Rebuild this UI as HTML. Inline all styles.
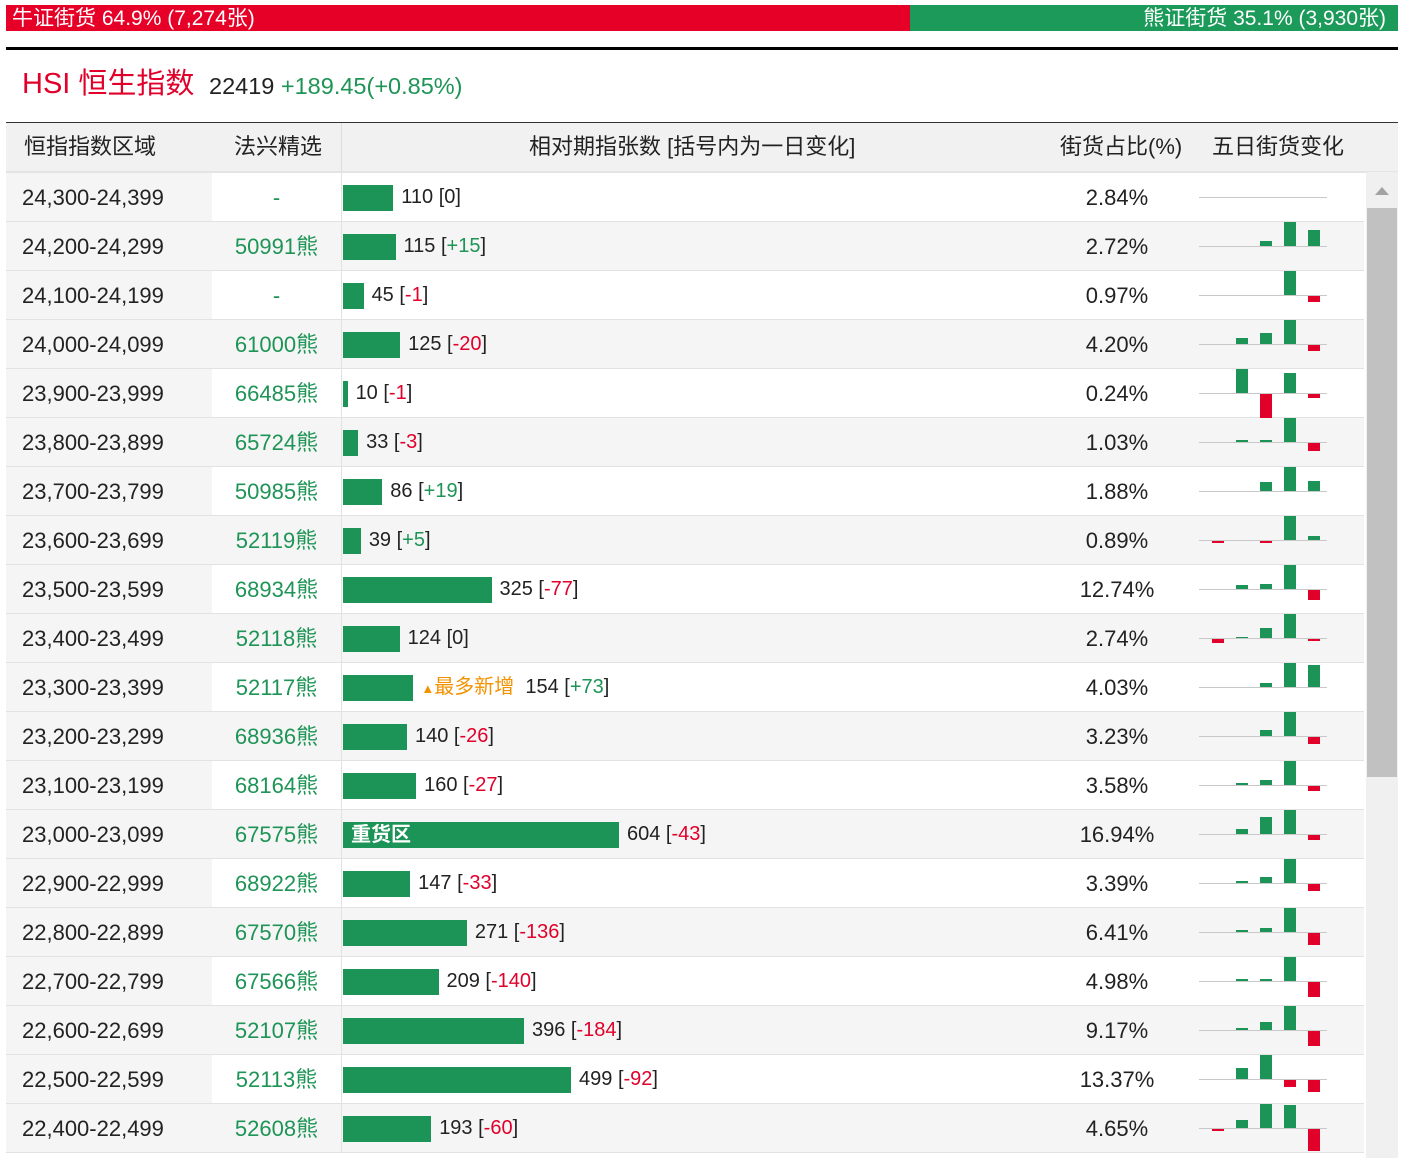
<!DOCTYPE html>
<html><head><meta charset="utf-8">
<style>
*{box-sizing:border-box;margin:0;padding:0}
body{width:1404px;height:1158px;overflow:hidden;background:#fff;font-family:"Liberation Sans","Noto Sans CJK SC",sans-serif;position:relative;color:#222}
.abs{position:absolute}
#rows div.t{position:absolute;font-size:20px;line-height:49px;white-space:nowrap}
#rows div.big{font-size:22px}
.g{color:#1e9456}.r{color:#e0002a}
</style></head><body>
<div class="abs" style="left:6px;top:5px;width:904px;height:26px;background:#e60028;color:#fff;font-size:21px;line-height:27px;padding-left:6px">牛证街货 64.9% (7,274张)</div>
<div class="abs" style="left:910px;top:5px;width:488px;height:26px;background:#1b9a59;color:#fff;font-size:21px;line-height:27px;text-align:right;padding-right:12px">熊证街货 35.1% (3,930张)</div>
<div class="abs" style="left:6px;top:47px;width:1392px;height:3px;background:#000"></div>
<div class="abs" style="left:22px;top:66px;font-size:29px;color:#e0002a;line-height:36px">HSI 恒生指数</div>
<div class="abs" style="left:209px;top:71px;font-size:23.5px;line-height:30px">22419 <span class="g">+189.45(+0.85%)</span></div>
<div class="abs" style="left:6px;top:122px;width:1392px;height:51px;background:#f1f1f1;border-top:1px solid #333;border-bottom:2px solid #e4e4e4;font-size:22px;line-height:48px;color:#222">
<span class="abs" style="left:18px">恒指指数区域</span>
<span class="abs" style="left:228px">法兴精选</span>
<span class="abs" style="left:335px;top:0;width:1px;height:48px;background:#ddd"></span>
<span class="abs" style="left:523px">相对期指张数 [括号内为一日变化]</span>
<span class="abs" style="left:1054px">街货占比(%)</span>
<span class="abs" style="left:1206px">五日街货变化</span>
</div>
<div class="abs" style="left:1366px;top:172px;width:32px;height:986px;background:#f0f0f0">
<div class="abs" style="left:9px;top:15px;width:0;height:0;border-left:7px solid transparent;border-right:7px solid transparent;border-bottom:8px solid #a3a3a3"></div>
<div class="abs" style="left:1px;top:36px;width:30px;height:569px;background:#c1c1c1"></div>
</div>
<div id="rows"></div>
<script>
const ranges=["24,300-24,399","24,200-24,299","24,100-24,199","24,000-24,099","23,900-23,999","23,800-23,899","23,700-23,799","23,600-23,699","23,500-23,599","23,400-23,499","23,300-23,399","23,200-23,299","23,100-23,199","23,000-23,099","22,900-22,999","22,800-22,899","22,700-22,799","22,600-22,699","22,500-22,599","22,400-22,499"];
const codes=["-","50991熊","-","61000熊","66485熊","65724熊","50985熊","52119熊","68934熊","52118熊","52117熊","68936熊","68164熊","67575熊","68922熊","67570熊","67566熊","52107熊","52113熊","52608熊"];
const counts=[110,115,45,125,10,33,86,39,325,124,154,140,160,604,147,271,209,396,499,193];
const changes=[0,15,-1,-20,-1,-3,19,5,-77,0,73,-26,-27,-43,-33,-136,-140,-184,-92,-60];
const shares=["2.84%","2.72%","0.97%","4.20%","0.24%","1.03%","1.88%","0.89%","12.74%","2.74%","4.03%","3.23%","3.58%","16.94%","3.39%","6.41%","4.98%","9.17%","13.37%","4.65%"];
const fiveDay=[[0,0,0,0,0],[0,0,5,24,16],[0,0,0,24,-6],[0,6,11,24,-6],[0,24,-24,20,-4],[0,2,2,24,-8],[0,0,9,24,10],[-2,0,-2,24,4],[0,4,5,24,-10],[-4,1,10,24,-2],[0,0,4,24,22],[0,0,6,24,-7],[0,2,5,24,-5],[0,5,17,24,-5],[0,2,6,24,-7],[0,2,4,24,-12],[0,2,2,24,-15],[0,2,8,24,-15],[0,11,24,-7,-12],[-2,8,24,23,-22]];
const ROW_H=49,TOP=173,BAR_X=343,SCALE=276/604;
const host=document.getElementById('rows');
function mk(parent,css,name,inter){const d=document.createElement('div');d.style.cssText='position:absolute;'+css;


parent.appendChild(d);return d;}
ranges.forEach((rg,i)=>{
 const y=TOP+i*ROW_H;const alt=i%2===1;
 const row=mk(host,`left:6px;top:${y}px;width:1358px;height:${ROW_H}px;background:${alt?'#f5f5f5':'#fff'};border-bottom:1px solid #e2e2e2`,'table-row','false');
 mk(row,`left:0;top:0;width:206px;height:48px;background:#f5f5f5`,'range-cell-bg','false');
 mk(row,`left:335px;top:0;width:1px;height:48px;background:#e2e2e2`,'col-sep','false');
 const t1=mk(row,'left:16px;top:0','range-label','false');t1.className='t big';t1.textContent=rg;
 const t2=mk(row,'left:206px;width:129px;text-align:center;top:0','warrant-code','true');t2.className='t big g';t2.textContent=codes[i];
 const w=counts[i]*SCALE;
 const bar=mk(row,`left:${BAR_X-6}px;top:12px;width:${w}px;height:26px;background:#1d9457`,'count-bar','false');
 let lx=BAR_X-6+w+8;
 if(i===13){bar.textContent='重货区';bar.style.color='#fff';bar.style.fontSize='20px';bar.style.fontWeight='bold';bar.style.lineHeight='26px';bar.style.paddingLeft='8px';}
 if(i===10){const h=mk(row,`left:${lx}px;top:0;font-size:20px;line-height:49px;color:#f39200;white-space:nowrap`,'most-added-label','false');h.innerHTML='<span style="font-size:13px">▲</span>最多新增';lx+=104;}
 const c=changes[i];const cs=c>0?'<span class="g">+'+c+'</span>':c<0?'<span class="r">'+c+'</span>':'0';
 const t3=mk(row,`left:${lx}px;top:0`,'count-label','false');t3.className='t';t3.innerHTML=counts[i]+' ['+cs+']';
 const t4=mk(row,'left:1056px;width:110px;text-align:center;top:0','share-label','false');t4.className='t big';t4.textContent=shares[i];
 mk(row,`left:1193px;top:24px;width:128px;height:1px;background:#c8c8c8`,'mini-baseline','false');
 const vals=fiveDay[i];const mx=Math.max(...vals.map(Math.abs))||1;
 vals.forEach((v,k)=>{if(!v)return;const h=Math.abs(v)/mx*24;const x=1206+k*24;
  mk(row,`left:${x}px;top:${v>0?24-h:25}px;width:12px;height:${h}px;background:${v>0?'#1d9457':'#e0002a'}`,'mini-bar','false');});
});
</script>
</body></html>
